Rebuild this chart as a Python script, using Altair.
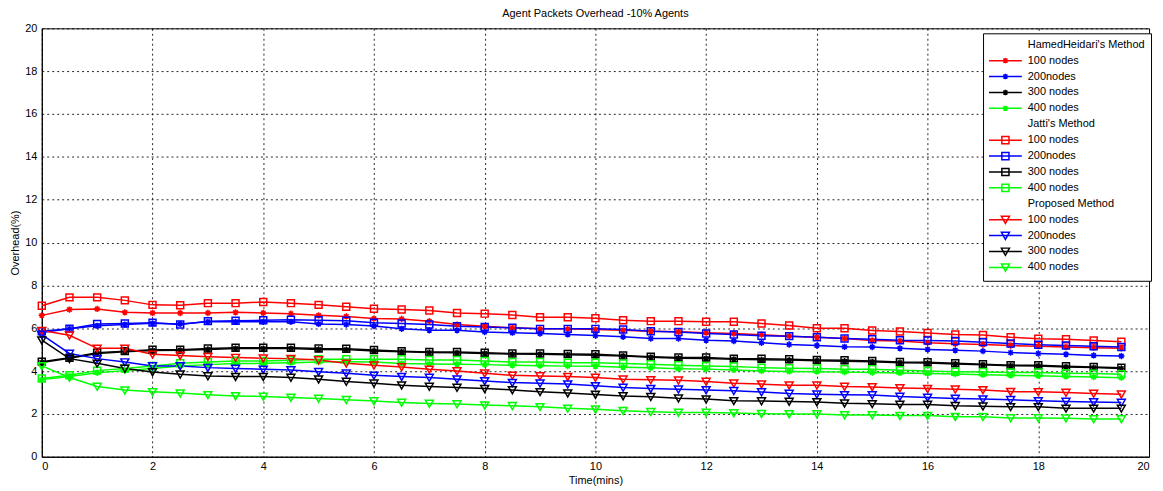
import altair as alt
import pandas as pd

# ---------------- data ----------------
times = [0, 0.5, 1, 1.5, 2, 2.5, 3, 3.5, 4, 4.5, 5, 5.5, 6, 6.5, 7, 7.5, 8, 8.5, 9, 9.5,
         10, 10.5, 11, 11.5, 12, 12.5, 13, 13.5, 14, 14.5, 15, 15.5, 16, 16.5, 17, 17.5, 18, 18.5, 19, 19.5]

methods = ["HamedHeidari's Method", "Jatti's Method", "Proposed Method"]
node_labels = ["100 nodes", "200nodes", "300 nodes", "400 nodes"]
node_colors = ["#ff0000", "#0000ff", "#000000", "#00ff00"]

hamed_100 = [6.6, 6.87, 6.9, 6.74, 6.71, 6.71, 6.71, 6.74, 6.71, 6.68, 6.6, 6.55, 6.45, 6.43, 6.33, 6.17, 6.09, 6.02, 5.97, 5.97,
             5.94, 5.9, 5.86, 5.83, 5.79, 5.75, 5.7, 5.63, 5.58, 5.52, 5.43, 5.4, 5.32, 5.27, 5.24, 5.19, 5.16, 5.12, 5.09, 5.06]
hamed_200 = [5.8, 5.98, 6.11, 6.17, 6.23, 6.2, 6.3, 6.3, 6.3, 6.3, 6.2, 6.17, 6.1, 5.97, 5.9, 5.9, 5.82, 5.79, 5.75, 5.71,
             5.66, 5.6, 5.52, 5.52, 5.44, 5.4, 5.32, 5.24, 5.19, 5.13, 5.12, 5.06, 5.01, 4.97, 4.93, 4.86, 4.82, 4.78, 4.73, 4.7]
hamed_300 = [4.4, 4.6, 4.82, 4.9, 4.96, 4.97, 5.01, 5.05, 5.05, 5.05, 5.01, 5.0, 4.94, 4.9, 4.86, 4.85, 4.82, 4.79, 4.78, 4.76,
             4.74, 4.7, 4.64, 4.6, 4.59, 4.55, 4.53, 4.51, 4.48, 4.46, 4.43, 4.39, 4.37, 4.33, 4.29, 4.25, 4.24, 4.19, 4.16, 4.12]
hamed_400 = [3.6, 3.75, 3.92, 4.02, 4.12, 4.24, 4.3, 4.35, 4.36, 4.39, 4.42, 4.43, 4.42, 4.35, 4.33, 4.32, 4.3, 4.27, 4.25, 4.23,
             4.22, 4.18, 4.15, 4.11, 4.09, 4.05, 4.0, 3.98, 3.97, 3.95, 3.93, 3.91, 3.88, 3.86, 3.83, 3.8, 3.78, 3.75, 3.72, 3.69]

jatti_100 = [7.05, 7.44, 7.44, 7.3, 7.09, 7.07, 7.17, 7.17, 7.22, 7.17, 7.09, 7.0, 6.91, 6.87, 6.83, 6.71, 6.68, 6.62, 6.51, 6.51,
             6.47, 6.37, 6.33, 6.33, 6.3, 6.3, 6.22, 6.13, 6.0, 6.0, 5.89, 5.85, 5.78, 5.71, 5.68, 5.58, 5.51, 5.48, 5.43, 5.37]
jatti_200 = [5.86, 5.98, 6.2, 6.22, 6.26, 6.17, 6.33, 6.35, 6.37, 6.4, 6.37, 6.35, 6.26, 6.22, 6.17, 6.09, 6.06, 6.02, 5.97, 5.97,
             5.97, 5.94, 5.86, 5.82, 5.75, 5.71, 5.65, 5.63, 5.58, 5.52, 5.48, 5.44, 5.43, 5.4, 5.35, 5.29, 5.23, 5.19, 5.16, 5.12]
jatti_300 = [4.44, 4.62, 4.86, 4.93, 5.0, 5.0, 5.05, 5.09, 5.09, 5.09, 5.05, 5.04, 4.98, 4.93, 4.89, 4.89, 4.85, 4.82, 4.82, 4.8,
             4.78, 4.73, 4.67, 4.63, 4.63, 4.58, 4.57, 4.55, 4.52, 4.5, 4.47, 4.42, 4.41, 4.36, 4.32, 4.27, 4.27, 4.22, 4.19, 4.15]
jatti_400 = [3.65, 3.8, 4.02, 4.12, 4.24, 4.36, 4.42, 4.47, 4.47, 4.5, 4.55, 4.55, 4.55, 4.55, 4.52, 4.52, 4.47, 4.42, 4.42, 4.39,
             4.39, 4.35, 4.32, 4.27, 4.24, 4.21, 4.16, 4.13, 4.12, 4.08, 4.08, 4.04, 4.0, 3.97, 3.96, 3.93, 3.93, 3.9, 3.88, 3.85]

prop_100 = [5.89, 5.67, 5.06, 5.06, 4.78, 4.73, 4.67, 4.63, 4.6, 4.58, 4.52, 4.36, 4.27, 4.19, 4.08, 4.0, 3.9, 3.8, 3.77, 3.74,
            3.7, 3.62, 3.59, 3.57, 3.51, 3.43, 3.39, 3.34, 3.34, 3.28, 3.26, 3.21, 3.18, 3.15, 3.12, 3.04, 3.03, 3.0, 2.95, 2.92]
prop_200 = [5.7, 4.82, 4.58, 4.42, 4.24, 4.24, 4.16, 4.12, 4.08, 4.05, 3.97, 3.9, 3.8, 3.74, 3.7, 3.62, 3.54, 3.46, 3.43, 3.39,
            3.31, 3.23, 3.18, 3.15, 3.12, 3.08, 3.02, 2.95, 2.92, 2.89, 2.88, 2.81, 2.77, 2.72, 2.69, 2.66, 2.61, 2.58, 2.56, 2.53]
prop_300 = [5.44, 4.58, 4.36, 4.12, 3.96, 3.85, 3.77, 3.74, 3.74, 3.7, 3.62, 3.51, 3.43, 3.34, 3.28, 3.23, 3.18, 3.12, 3.03, 2.97,
            2.91, 2.84, 2.8, 2.73, 2.69, 2.61, 2.6, 2.58, 2.56, 2.5, 2.47, 2.44, 2.44, 2.38, 2.36, 2.33, 2.33, 2.26, 2.26, 2.26]
prop_400 = [4.24, 3.7, 3.28, 3.11, 3.03, 2.97, 2.89, 2.84, 2.81, 2.77, 2.72, 2.66, 2.6, 2.53, 2.49, 2.46, 2.41, 2.38, 2.33, 2.26,
            2.22, 2.15, 2.1, 2.07, 2.07, 2.04, 2.01, 2.0, 2.0, 1.95, 1.95, 1.92, 1.92, 1.87, 1.87, 1.81, 1.81, 1.8, 1.76, 1.76]

series_values = {
    methods[0]: [hamed_100, hamed_200, hamed_300, hamed_400],
    methods[1]: [jatti_100, jatti_200, jatti_300, jatti_400],
    methods[2]: [prop_100, prop_200, prop_300, prop_400],
}

x_ticks = [0, 2, 4, 6, 8, 10, 12, 14, 16, 18, 20]
y_ticks = [0, 2, 4, 6, 8, 10, 12, 14, 16, 18, 20]

# ---------------- long table ----------------
rows = []
for m in methods:
    for label, col, vals in zip(node_labels, node_colors, series_values[m]):
        key = m + "|" + label
        for t, v in zip(times, vals):
            rows.append({"t": t, "v": v, "method": m, "key": key, "col": col})
df = pd.DataFrame(rows)

FONT = "Liberation Sans"

x_enc = alt.X("t:Q", scale=alt.Scale(domain=[0, 20], nice=False),
              axis=alt.Axis(values=x_ticks, title="Time(mins)", format="d"))
y_enc = alt.Y("v:Q", scale=alt.Scale(domain=[0, 20], nice=False),
              axis=alt.Axis(values=y_ticks, title="Overhead(%)", format="d"))

base = alt.Chart(df)

lines = base.mark_line(strokeWidth=1.5, clip=True).encode(
    x=x_enc, y=y_enc, detail="key:N",
    color=alt.Color("col:N", scale=None),
)

marker_shapes = {
    methods[0]: ("M-1,0H1M0,-1V1M-0.7,-0.7L0.7,0.7M-0.7,0.7L0.7,-0.7", 40),
    methods[1]: ("square", 49),
    methods[2]: ("M-1,-0.8L1,-0.8L0,0.95Z", 64),
}

point_layers = []
for m in methods:
    shp, sz = marker_shapes[m]
    point_layers.append(
        base.transform_filter(alt.datum.method == m)
        .mark_point(shape=shp, size=sz, filled=False, strokeWidth=1.5, opacity=1)
        .encode(x="t:Q", y="v:Q", color=alt.Color("col:N", scale=None))
    )

# ---------------- legend (built from a scale domain) ----------------
legend_keys = []
legend_paths = []
legend_colors = []
legend_marker_paths = {
    methods[0]: "M-3.67,0H3.67M-0.6,0H0.6M0,-0.6V0.6M-0.45,-0.45L0.45,0.45M-0.45,0.45L0.45,-0.45",
    methods[1]: "M-3.67,0H3.67M-0.8,-0.8H0.8V0.8H-0.8Z",
    methods[2]: "M-3.67,0H3.67M-0.9,-0.75H0.9L0,0.85Z",
}
for m in methods:
    legend_keys.append(m)
    legend_paths.append("M-0.1,0H0.1")
    legend_colors.append("#ffffff")
    for label, col in zip(node_labels, node_colors):
        legend_keys.append(m + "|" + label)
        legend_paths.append(legend_marker_paths[m])
        legend_colors.append(col)

legend_df = pd.DataFrame({"key": legend_keys})

def make_legend():
    return alt.Legend(
        orient="none", legendX=947, legendY=5, direction="vertical", title=None,
        strokeColor="#000000", fillColor="#ffffff", padding=6,
        gridAlign="all", rowPadding=1,
        symbolSize=81, symbolStrokeWidth=1.5, symbolOffset=11,
        symbolFillColor="transparent",
        labelOffset=17, labelFont=FONT, labelFontSize=11, labelColor="#000000",
        labelLimit=400,
        labelExpr="indexof(datum.label, '|') >= 0 ? substring(datum.label, indexof(datum.label, '|') + 1) : datum.label",
    )

legend_layer = alt.Chart(legend_df).transform_filter("false").mark_point(
    filled=False, size=81, strokeWidth=1.5, opacity=1
).encode(
    shape=alt.Shape("key:N", scale=alt.Scale(domain=legend_keys, range=legend_paths), legend=make_legend()),
    stroke=alt.Stroke("key:N", scale=alt.Scale(domain=legend_keys, range=legend_colors), legend=make_legend()),
)

chart = alt.layer(lines, *point_layers, legend_layer).properties(
    width=1114, height=431,
    background="#ffffff",
    title=alt.TitleParams("Agent Packets Overhead -10% Agents", font=FONT, fontSize=11,
                          fontWeight="normal", color="#000000", anchor="middle", offset=3),
    padding={"left": 34, "top": 19, "right": 6, "bottom": 30},
    autosize=alt.AutoSizeParams(type="none"),
).configure_view(
    stroke="#000000", strokeWidth=1
).configure_axis(
    labelFont=FONT, labelFontSize=11, labelColor="#000000",
    titleFont=FONT, titleFontSize=11, titleFontWeight="normal", titleColor="#000000",
    domainColor="#000000", ticks=False,
    grid=True, gridColor="#000000", gridDash=[2, 3], gridOpacity=0.85, gridWidth=1,
).configure_axisX(
    labelPadding=4, titlePadding=3
).configure_axisY(
    labelPadding=5, titlePadding=4
)

chart.save("out.html", embed_options={"renderer": "svg", "actions": False})
